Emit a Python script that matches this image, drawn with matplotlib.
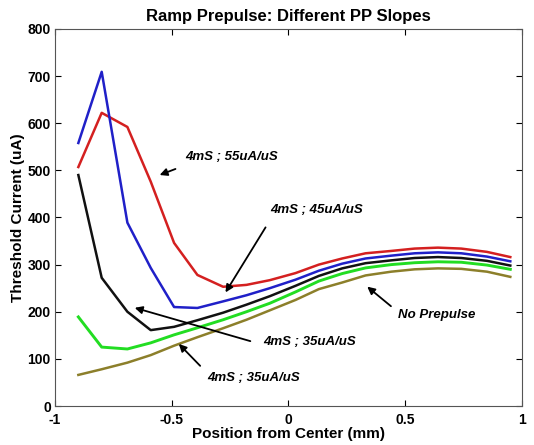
import matplotlib
matplotlib.use("Agg")
import matplotlib.pyplot as plt

x_pos = [-0.90, -0.80, -0.69, -0.59, -0.49, -0.39, -0.28, -0.18, -0.08, 0.03,
         0.13, 0.23, 0.33, 0.44, 0.54, 0.64, 0.74, 0.85, 0.95]

red_55 = [507, 622, 592, 476, 346, 278, 253, 257, 267, 282,
          300, 313, 324, 329, 334, 336, 334, 327, 316]
blue_45 = [558, 709, 389, 293, 210, 208, 222, 235, 250, 268,
           287, 302, 313, 319, 324, 326, 324, 317, 307]
black_35 = [490, 272, 200, 161, 168, 182, 198, 215, 233, 255,
            276, 292, 303, 309, 314, 316, 314, 308, 298]
green_35 = [189, 125, 121, 134, 151, 166, 183, 200, 218, 242,
            265, 281, 293, 300, 304, 306, 305, 299, 290]
olive_none = [66, 78, 92, 108, 128, 146, 165, 183, 203, 225,
              248, 262, 277, 285, 290, 292, 291, 285, 274]

x_ticks = [-1, -0.5, 0, 0.5, 1]
x_ticklabels = ["-1", "-0.5", "0", "0.5", "1"]
y_ticks = [0, 100, 200, 300, 400, 500, 600, 700, 800]

plt.rcParams['font.family'] = ['Liberation Sans', 'DejaVu Sans']

fig = plt.figure(figsize=(5.34, 4.45), dpi=100)
ax = fig.add_axes([0.103, 0.0876, 0.8745, 0.8474])

lw = 1.8
ax.plot(x_pos, red_55, color='#d42020', lw=lw)
ax.plot(x_pos, blue_45, color='#2020c8', lw=lw)
ax.plot(x_pos, black_35, color='#111111', lw=lw)
ax.plot(x_pos, green_35, color='#22dd22', lw=lw + 0.3)
ax.plot(x_pos, olive_none, color='#8c7f2a', lw=lw)

ax.set_xlim(-1, 1)
ax.set_ylim(0, 800)
ax.set_xticks(x_ticks)
ax.set_xticklabels(x_ticklabels)
ax.set_yticks(y_ticks)
ax.tick_params(direction='in', top=True, right=True, length=4, width=0.8,
               labelsize=10)
ax.tick_params(axis='x', pad=5)
ax.tick_params(axis='y', pad=3)
for lab in ax.get_xticklabels() + ax.get_yticklabels():
    lab.set_fontweight('bold')
for s in ax.spines.values():
    s.set_color('#555555')
    s.set_linewidth(0.8)

ax.set_title("Ramp Prepulse: Different PP Slopes", fontsize=12, fontweight='bold', pad=6)
ax.set_xlabel("Position from Center (mm)", fontsize=11, fontweight='bold', labelpad=0)
ax.set_ylabel("Threshold Current (uA)", fontsize=11, fontweight='bold', labelpad=2)

akw = dict(fontsize=9.5, fontweight='bold', fontstyle='italic', va='center', ha='left')
arr = dict(arrowstyle='-|>', color='black', lw=1.3, mutation_scale=11)

ax.annotate("", xy=(-0.563, 488), xytext=(-0.473, 505), arrowprops=arr)
ax.text(-0.443, 529, "4mS ; 55uA/uS", **akw)

ax.annotate("", xy=(-0.276, 236), xytext=(-0.092, 384), arrowprops=arr)
ax.text(-0.079, 416, "4mS ; 45uA/uS", **akw)

ax.annotate("", xy=(-0.670, 210), xytext=(-0.152, 136), arrowprops=arr)
ax.text(-0.109, 136, "4mS ; 35uA/uS", **akw)

ax.annotate("", xy=(-0.478, 136), xytext=(-0.370, 81), arrowprops=arr)
ax.text(-0.349, 59, "4mS ; 35uA/uS", **akw)

ax.annotate("", xy=(0.328, 257), xytext=(0.448, 208), arrowprops=arr)
ax.text(0.469, 193, "No Prepulse", **akw)

fig.savefig("out.png", dpi=100)
